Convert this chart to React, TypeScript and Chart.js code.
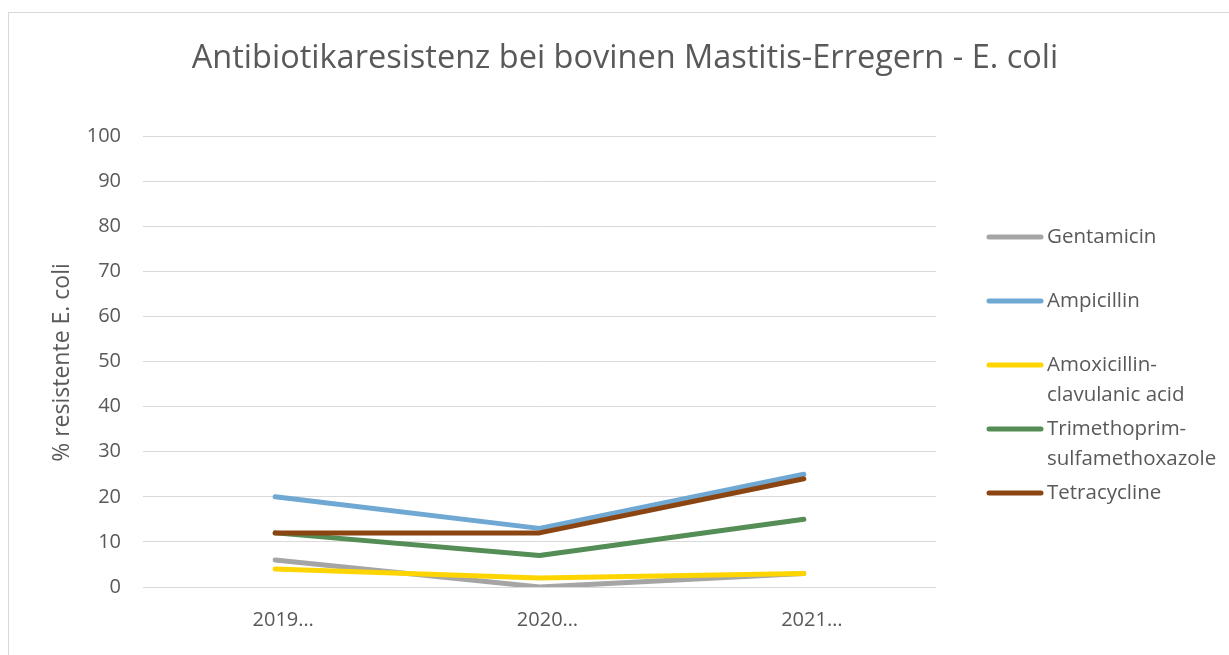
import React, { useEffect, useRef } from "react";
import { Chart, registerables } from "chart.js";

Chart.register(...registerables);

const TITLE = "Antibiotikaresistenz bei bovinen Mastitis-Erregern - E. coli";
const Y_TITLE = "% resistente E. coli";
const CATEGORIES = ["2019…", "2020…", "2021…"];
const SERIES_NAMES: string[][] = [
  ["Gentamicin"],
  ["Ampicillin"],
  ["Amoxicillin-", "clavulanic acid"],
  ["Trimethoprim-", "sulfamethoxazole"],
  ["Tetracycline"],
];
const GENTAMICIN = [6, 0, 3];
const AMPICILLIN = [20, 13, 25];
const AMOXICILLIN_CLAV = [4, 2, 3];
const TRIMETHOPRIM_SULFA = [12, 7, 15];
const TETRACYCLINE = [12, 12, 24];
const SERIES_VALUES = [GENTAMICIN, AMPICILLIN, AMOXICILLIN_CLAV, TRIMETHOPRIM_SULFA, TETRACYCLINE];
const COLORS = ["#A5A5A5", "#6FA8D3", "#FFD500", "#548D55", "#8B4513"];
const Y_MIN = 0;
const Y_MAX = 100;
const Y_STEP = 10;

const FONT = "'Open Sans', sans-serif";
const TEXT_COLOR = "#595959";
const W = 1234;
const H = 650;

const decorPlugin = {
  id: "decor",
  beforeDraw(chart: any) {
    const ctx = chart.ctx;
    ctx.save();
    ctx.fillStyle = "#ffffff";
    ctx.fillRect(0, 0, W, H);
    ctx.strokeStyle = "#d9d9d9";
    ctx.lineWidth = 1;
    ctx.strokeRect(0.5, 0.5, W - 1, H - 1);
    ctx.restore();
  },
  afterDraw(chart: any) {
    const ctx = chart.ctx;
    ctx.save();
    ctx.fillStyle = TEXT_COLOR;
    // title
    ctx.font = `32.5px ${FONT}`;
    ctx.textAlign = "center";
    ctx.textBaseline = "alphabetic";
    ctx.fillText(TITLE, 617, 56);
    // y axis title
    ctx.save();
    ctx.translate(54, chart.chartArea.top + (chart.chartArea.bottom - chart.chartArea.top) / 2 + 1);
    ctx.rotate(-Math.PI / 2);
    ctx.font = `23px ${FONT}`;
    ctx.textBaseline = "middle";
    ctx.fillText(Y_TITLE, 0, 0);
    ctx.restore();
    // legend
    ctx.font = `20.5px ${FONT}`;
    ctx.textAlign = "left";
    ctx.textBaseline = "middle";
    const startY = 225;
    const step = 64;
    SERIES_NAMES.forEach((lines, i) => {
      const y = startY + i * step;
      ctx.strokeStyle = COLORS[i];
      ctx.lineWidth = 5;
      ctx.lineCap = "round";
      ctx.beginPath();
      ctx.moveTo(981, y);
      ctx.lineTo(1033, y);
      ctx.stroke();
      ctx.fillStyle = TEXT_COLOR;
      lines.forEach((t, j) => ctx.fillText(t, 1039, y + j * 30));
    });
    ctx.restore();
  },
};

export default function App() {
  const ref = useRef<HTMLCanvasElement>(null);
  useEffect(() => {
    document.body.style.overflow = "hidden";
    document.documentElement.style.overflow = "hidden";
    const canvas = ref.current!;
    const chart = new Chart(canvas, {
      type: "line",
      data: {
        labels: CATEGORIES,
        datasets: SERIES_VALUES.map((vals, i) => ({
          label: SERIES_NAMES[i].join(""),
          data: vals,
          borderColor: COLORS[i],
          backgroundColor: COLORS[i],
          borderWidth: 5,
          borderCapStyle: "round" as const,
          borderJoinStyle: "round" as const,
          pointRadius: 0,
          tension: 0,
          fill: false,
          order: SERIES_VALUES.length - i,
        })),
      },
      options: {
        responsive: false,
        animation: false,
        devicePixelRatio: 1,
        layout: { padding: { left: 0, top: 124, right: W - 928, bottom: 0 } },
        plugins: {
          legend: { display: false },
          title: { display: false },
          tooltip: { enabled: false },
        },
        scales: {
          x: {
            type: "category",
            offset: true,
            grid: { display: false, drawTicks: false },
            border: { display: false },
            ticks: { color: TEXT_COLOR, font: { family: FONT, size: 20 }, padding: 21, maxRotation: 0, labelOffset: 8 },
            afterFit(scale: any) {
              scale.height = H - 575;
            },
          },
          y: {
            min: Y_MIN,
            max: Y_MAX,
            grid: { color: "#d9d9d9", lineWidth: 1, drawTicks: false },
            border: { display: false },
            ticks: { stepSize: Y_STEP, color: TEXT_COLOR, font: { family: FONT, size: 20 }, padding: 22 },
            afterFit(scale: any) {
              scale.width = 135;
            },
          },
        },
      },
      plugins: [decorPlugin],
    } as any);
    return () => chart.destroy();
  }, []);
  return (
    <div
      style={{
        position: "fixed",
        left: 8,
        top: 12,
        width: 1221,
        height: 643,
        overflow: "hidden",
      }}
    >
      <canvas ref={ref} width={W} height={H} style={{ width: W, height: H, display: "block" }} />
    </div>
  );
}
